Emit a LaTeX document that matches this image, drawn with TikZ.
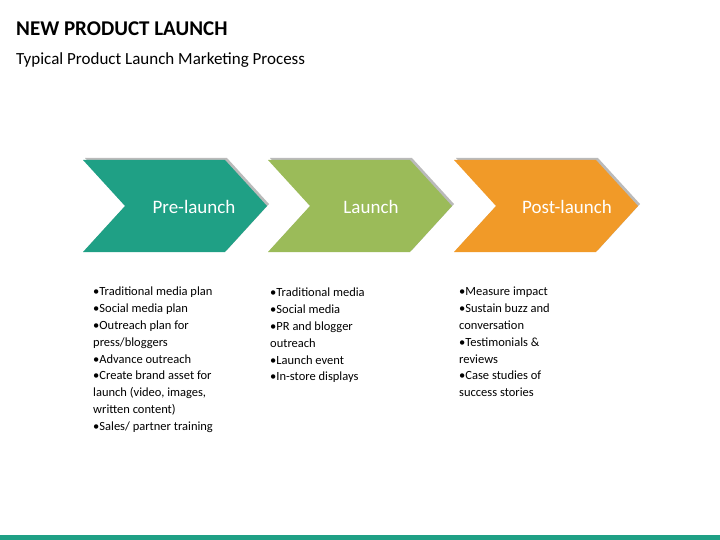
\documentclass[tikz,border=0pt]{standalone}
\usepackage{fontspec}
\setmainfont{Carlito}
\usetikzlibrary{shadows}
\definecolor{tealc}{HTML}{1FA085}
\definecolor{greenc}{HTML}{9BBB59}
\definecolor{orangec}{HTML}{F19A28}
\tikzset{
  chev/.style={fill=#1, drop shadow={shadow xshift=2pt, shadow yshift=2pt, fill=black!45, opacity=.6}},
  chevtext/.style={text=white, font=\fontsize{19}{23}\selectfont},
  bullets/.style={anchor=north west, align=left, inner sep=0pt, font=\fontsize{12.5}{16.8}\selectfont}
}
\newcommand{\chevshape}[2]{% #1 left x, #2 colour
  \path[chev=#2] (#1,160) -- ++(142,0) -- ++(42,46) -- ++(-42,46) -- ++(-142,0) -- ++(42,-46) -- cycle;}
\begin{document}
\begin{tikzpicture}[x=1pt,y=-1pt]
\useasboundingbox (0,0) rectangle (720,540);
% heading
\node[anchor=west, inner sep=0pt, font=\fontsize{21}{25}\selectfont\bfseries] (title) at (16,29) {NEW PRODUCT LAUNCH};
\node[anchor=west, inner sep=0pt, font=\fontsize{17}{20}\selectfont] (subtitle) at (16,60) {Typical Product Launch Marketing Process};
% chevrons
\chevshape{83}{tealc}
\chevshape{268}{greenc}
\chevshape{454}{orangec}
\node[chevtext] (pre) at (194,207) {Pre-launch};
\node[chevtext] (launch) at (371,207) {Launch};
\node[chevtext] (post) at (567,207) {Post-launch};
% bullet lists
\node[bullets] (prelist) at (93,287) {•Traditional media plan\\•Social media plan\\•Outreach plan for\\press/bloggers\\•Advance outreach\\•Create brand asset for\\launch (video, images,\\written content)\\•Sales/ partner training};
\node[bullets] (launchlist) at (270,288) {•Traditional media\\•Social media\\•PR and blogger\\outreach\\•Launch event\\•In-store displays};
\node[bullets] (postlist) at (459,287) {•Measure impact\\•Sustain buzz and\\conversation\\•Testimonials \&\\reviews\\•Case studies of\\success stories};
% footer
\fill[tealc] (0,535) rectangle (720,540);
\end{tikzpicture}
\end{document}
